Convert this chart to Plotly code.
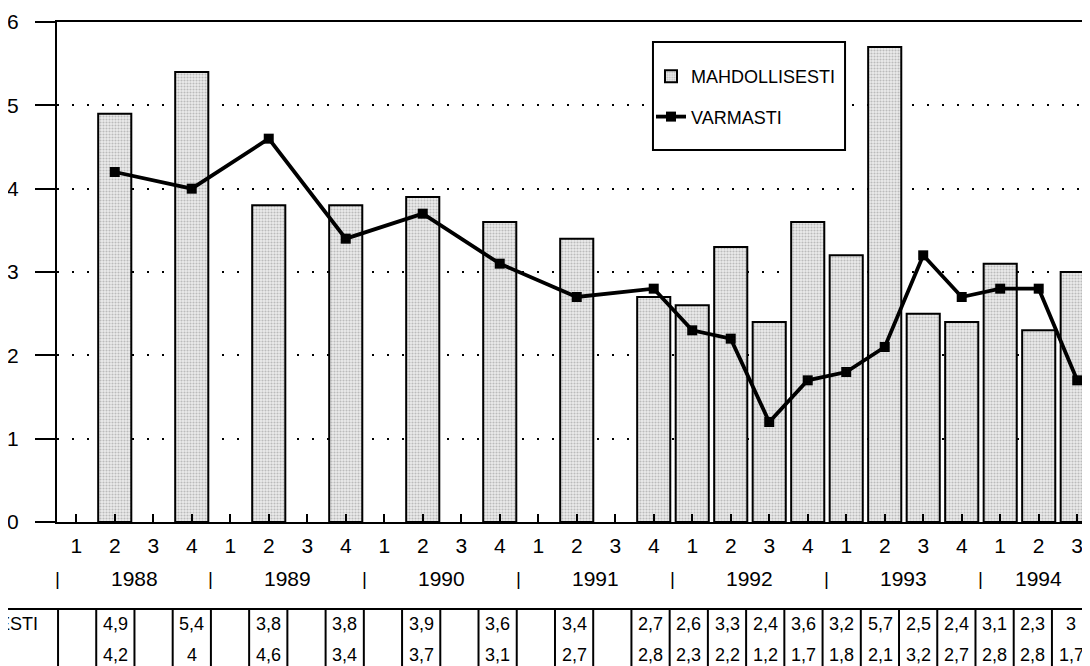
import plotly.graph_objects as go

years = ['1988', '1989', '1990', '1991', '1992', '1993', '1994']
quarters = ['1', '2', '3', '4']
periods = [f'{y}/{q}' for y in years for q in quarters][:27]
quarter_labels = [p.split('/')[1] for p in periods]

mahdollisesti = [None, 4.9, None, 5.4, None, 3.8, None, 3.8, None, 3.9, None, 3.6,
                 None, 3.4, None, 2.7, 2.6, 3.3, 2.4, 3.6, 3.2, 5.7, 2.5, 2.4, 3.1, 2.3, 3]
varmasti = [None, 4.2, None, 4, None, 4.6, None, 3.4, None, 3.7, None, 3.1,
            None, 2.7, None, 2.8, 2.3, 2.2, 1.2, 1.7, 1.8, 2.1, 3.2, 2.7, 2.8, 2.8, 1.7]

FONT = 'Liberation Sans, Arial, Helvetica, sans-serif'
CAT_PX = 38.5  # width of one quarter on the x axis, pixels


def fmt(v):
    return '' if v is None else f'{v:g}'.replace('.', ',')


def drift(k):
    # the table columns are a touch narrower than the plot categories
    return 1 - 0.27 * k


fig = go.Figure()
fig.add_trace(go.Bar(
    name='MAHDOLLISESTI', x=periods, y=mahdollisesti, width=0.86,
    legendgroup='a',
    marker=dict(color='#e6e6e6', line=dict(color='black', width=2),
                pattern=dict(shape='.', fgcolor='#8a8a8a', bgcolor='#ececec',
                             size=3, solidity=0.4)),
))
fig.add_trace(go.Scatter(
    name='VARMASTI', x=periods, y=varmasti, mode='lines+markers',
    connectgaps=True, legendgroup='b',
    line=dict(color='black', width=3.8),
    marker=dict(symbol='square', size=10, color='black'),
))

# year row under the quarter numbers
ann = []
for y in years:
    idx = [k for k, p in enumerate(periods) if p.startswith(y)]
    ann.append(dict(x=sum(idx) / len(idx), y=-0.112, xref='x', yref='paper',
                    yanchor='middle', text=y, showarrow=False, font=dict(size=21)))
for k in range(0, 27, 4):
    ann.append(dict(x=k - 0.5, y=-0.112, xref='x', yref='paper', yanchor='middle',
                    text='|', showarrow=False, font=dict(size=19)))
ann.append(dict(x=26.2, y=-0.112, xref='x', yref='paper', yanchor='middle',
                text='|', showarrow=False, font=dict(size=19)))

# data table
ann.append(dict(x=-0.0163, y=-0.203, xref='paper', yref='paper', text='MAHDOLLISESTI',
                xanchor='right', yanchor='middle', showarrow=False, font=dict(size=18)))
for k, (p, m, v) in enumerate(zip(periods, mahdollisesti, varmasti)):
    ann.append(dict(x=p, y=-0.203, xref='x', yref='paper', yanchor='middle',
                    xshift=drift(k), text=fmt(m), showarrow=False, font=dict(size=18)))
    ann.append(dict(x=p, y=-0.266, xref='x', yref='paper', yanchor='middle',
                    xshift=drift(k), text=fmt(v), showarrow=False, font=dict(size=18)))

shapes = [dict(type='line', xref='paper', yref='paper', x0=-0.07, x1=1.01,
               y0=-0.174, y1=-0.174, line=dict(color='black', width=2)),
          dict(type='line', xref='paper', yref='paper', x0=0.001, x1=0.001,
               y0=-0.174, y1=-0.34, line=dict(color='black', width=2))]
for k in range(1, 27):
    xk = k - 0.5 + drift(k) / CAT_PX
    shapes.append(dict(type='line', xref='x', yref='paper', x0=xk, x1=xk,
                       y0=-0.174, y1=-0.34, line=dict(color='black', width=2)))
# legend frame
shapes.append(dict(type='rect', xref='paper', yref='paper', layer='above',
                   x0=0.5725, x1=0.757, y0=0.744, y1=0.96,
                   fillcolor='white', line=dict(color='black', width=2)))

fig.update_layout(
    width=1090, height=666,
    margin=dict(l=49, r=0, t=14, b=152),
    paper_bgcolor='white', plot_bgcolor='white',
    font=dict(family=FONT, color='black', size=19),
    showlegend=True,
    legend=dict(x=0.5706, y=0.928, xanchor='left', yanchor='top',
                bgcolor='rgba(0,0,0,0)', borderwidth=0,
                font=dict(size=18), tracegroupgap=14, itemwidth=30),
    bargap=0.14,
    xaxis=dict(type='category', categoryorder='array', categoryarray=periods,
               range=[-0.5, 26.54], tickmode='array', tickvals=periods,
               ticktext=quarter_labels, ticks='inside', ticklen=8, tickwidth=2,
               tickcolor='black', showline=True, linecolor='black', linewidth=2,
               mirror=True, showgrid=False, ticklabelstandoff=4, automargin=False,
               tickfont=dict(size=21)),
    yaxis=dict(range=[0, 6], dtick=1, ticks='outside', ticklen=20, tickwidth=2,
               tickcolor='black', showline=True, linecolor='black', linewidth=2,
               showgrid=True, gridcolor='black', gridwidth=2, griddash='2px,13px',
               zeroline=False, ticklabelstandoff=12, automargin=False,
               tickfont=dict(size=21)),
    yaxis2=dict(range=[0, 6], dtick=0.2, ticks='inside', ticklen=10, tickwidth=2,
                tickcolor='black', overlaying='y', anchor='x', side='left',
                showticklabels=False, showgrid=False, zeroline=False, showline=False,
                automargin=False),
    annotations=ann,
    shapes=shapes,
)

fig.write_html('out.html')
